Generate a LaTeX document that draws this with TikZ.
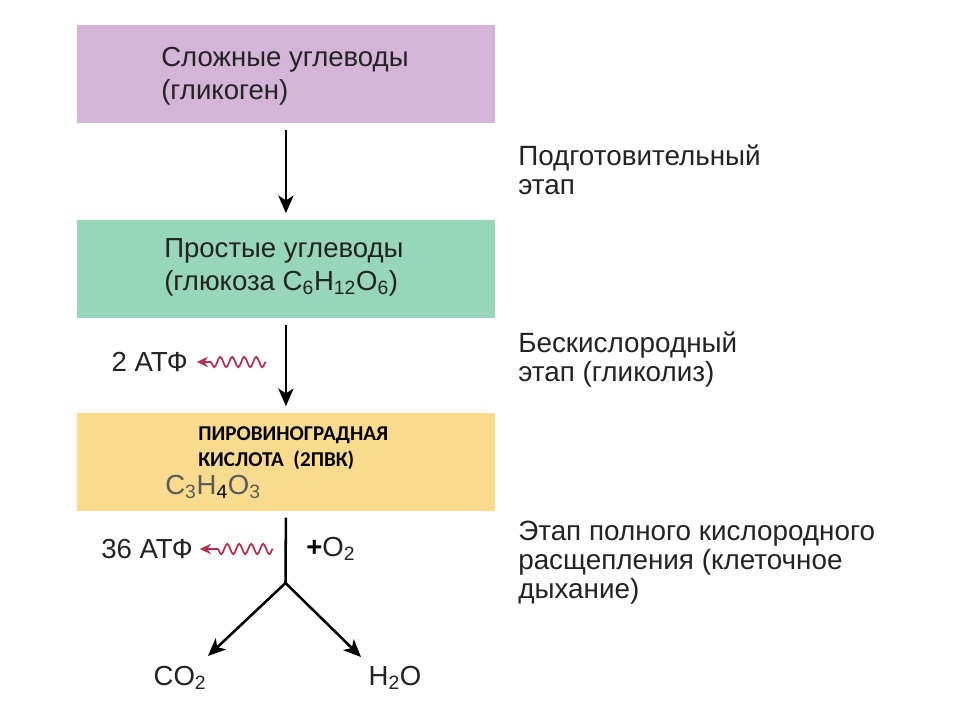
\documentclass[tikz,border=0pt]{standalone}
\usepackage{fontspec}
\setmainfont{Liberation Sans}
\newfontfamily\calibri{Carlito}
\usetikzlibrary{arrows.meta,positioning,decorations.pathmorphing}
\definecolor{slozh}{RGB}{212,181,215}
\definecolor{prost}{RGB}{152,214,186}
\definecolor{pvk}{RGB}{248,219,142}
\definecolor{txtgray}{RGB}{35,35,35}
\definecolor{wavered}{RGB}{178,48,78}

\begin{document}
\begin{tikzpicture}[x=0.025cm,y=-0.025cm,
	every node/.style={inner sep=0pt,text=txtgray,font=\fontsize{19.6}{23.5}\selectfont},
	stagebox/.style={anchor=north west,minimum width=10.43cm,minimum height=2.45cm},
	stagename/.style={anchor=west,align=left},
	sidenote/.style={anchor=west,align=left,font=\fontsize{19.8}{20.6}\selectfont},
	flow/.style={line width=1.8pt,-{Stealth[length=0.44cm,width=0.38cm,inset=0.12cm]}},
	wave/.style={draw=wavered,line width=1.2pt,-{Stealth[length=0.28cm,width=0.26cm]},decorate,
		decoration={snake,amplitude=0.13cm,segment length=0.3cm,post length=0.5cm}}]
		\path[use as bounding box,fill=white] (0,0) rectangle (960,720);
		
		\node (sl) [stagebox,fill=slozh] at (77,25) {};
		\node (pr) [stagebox,fill=prost] at (77,220) {};
		\node (pv) [stagebox,fill=pvk] at (77,413) {};
		
		\node (slT) [stagename] at (161,76.5) {Сложные углеводы\\(гликоген)};
		\node (prT) [stagename] at (164,267) {Простые углеводы\\(глюкоза C\textsubscript{6}H\textsubscript{12}O\textsubscript{6})};
		\node (pvF) [anchor=west,text=txtgray!75] at (165,487) {C\textsubscript{3}H\textsubscript{\textcolor{black}{4}}O\textsubscript{3}};
		\node (pvT) [anchor=west,align=left,text=black,font=\calibri\bfseries\fontsize{15}{18.5}\selectfont] at (198,448) {ПИРОВИНОГРАДНАЯ\\КИСЛОТА~~(2ПВК)};
		
		\node (n1) [sidenote] at (518,170) {Подготовительный\\этап};
		\node (n2) [sidenote] at (518,359.5) {Бескислородный\\этап (гликолиз)};
		\node (n3) [sidenote] at (518,563) {Этап полного кислородного\\расщепления (клеточное\\дыхание)};
		
		\draw[flow,shorten <=0.17cm,shorten >=0.17cm] (sl.south) -- (pr.north);
		\draw[flow,shorten <=0.17cm,shorten >=0.17cm] (pr.south) -- (pv.north);
		
		\node (atf2) [anchor=east] at (188,362) {2 АТФ};
		\coordinate (w2) at (266,362);
		\draw[wave,shorten >=0.22cm] (w2) -- (atf2.east);
		
		\node (atf36) [anchor=east] at (193,549) {36 АТФ};
		\coordinate (w36) at (273,549);
		\draw[wave,shorten >=0.17cm] (w36) -- (atf36.east);
		
		\node (ox) [anchor=west] at (306,549) {\textcolor{black}{\bfseries+}O\textsubscript{2}};
		
		\coordinate (fork) at (285.5,583);
		\coordinate (tipC) at (208,656);
		\coordinate (tipH) at (361,657);
		\draw[line width=1.8pt,shorten <=0.15cm] (pv.south) -- (fork);
		\draw[flow] (fork) -- (tipC);
		\draw[flow] (fork) -- (tipH);
		
		\node (co2) at (180,678) {CO\textsubscript{2}};
		\node (h2o) at (395,678) {H\textsubscript{2}O};
	\end{tikzpicture}
\end{document}
